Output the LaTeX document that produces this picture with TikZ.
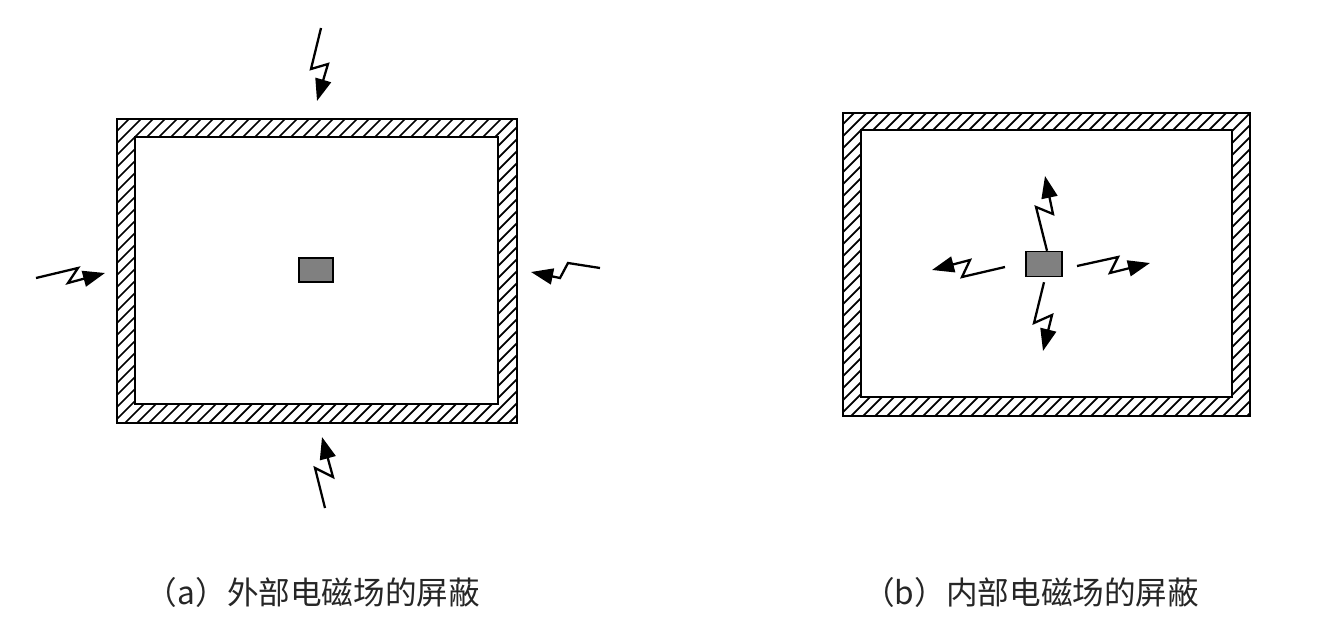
\documentclass[tikz,border=0pt]{standalone}
\usepackage{fontspec}
\newfontfamily\cjk{Noto Sans CJK SC}
\usetikzlibrary{arrows.meta}
\tikzset{
  wall/.style={draw=black, line width=0.8pt},
  hatchline/.style={draw=black, line width=1pt},
  source/.style={draw=black, line width=0.8pt, fill=black!50},
  bolt/.style={draw=black, line width=1.3pt, line join=miter,
    -{Triangle[length=0.44cm, width=0.32cm]}},
  caption/.style={font=\cjk\fontsize{18}{21}\selectfont, text=black!85, inner sep=0pt}
}
\newcommand{\shieldbox}[8]{%
  % #1,#2 outer x0,y0 ; #3,#4 outer x1,y1 ; #5..#8 inner
  \begin{scope}[even odd rule]
    \clip (#1,#2) rectangle (#3,#4) (#5,#6) rectangle (#7,#8);
    \foreach \xx in {-400,-388,...,540} {
      \draw[hatchline] ({#1+\xx},#4) -- ({#1+\xx+#4-#2},#2);
    }
  \end{scope}
  \draw[wall] (#1,#2) rectangle (#3,#4);
  \draw[wall] (#5,#6) rectangle (#7,#8);
}
\begin{document}
\begin{tikzpicture}[x=0.02cm, y=-0.02cm]
\useasboundingbox (0,0) rectangle (1332,639);
\fill[white] (0,0) rectangle (1332,639);

% ---------- (a) external ----------
\shieldbox{117}{119}{517}{423}{135}{137}{498}{404}
\node[source, minimum width=0.68cm, minimum height=0.48cm, inner sep=0pt] (srcA) at (316,270) {};

\coordinate (aT0) at (321,28);  \coordinate (aT1) at (311,69);
\coordinate (aT2) at (328,64);  \coordinate (aT3) at (317,101);
\draw[bolt] (aT0) -- (aT1) -- (aT2) -- (aT3);

\coordinate (aL0) at (36,278);  \coordinate (aL1) at (78,268);
\coordinate (aL2) at (68,283);  \coordinate (aL3) at (105,273);
\draw[bolt] (aL0) -- (aL1) -- (aL2) -- (aL3);

\coordinate (aR0) at (600,268); \coordinate (aR1) at (568,263);
\coordinate (aR2) at (560,278); \coordinate (aR3) at (531,272);
\draw[bolt] (aR0) -- (aR1) -- (aR2) -- (aR3);

\coordinate (aB0) at (325,508); \coordinate (aB1) at (315,468);
\coordinate (aB2) at (333,477); \coordinate (aB3) at (322,437);
\draw[bolt] (aB0) -- (aB1) -- (aB2) -- (aB3);

\node[caption] (capA) at (313,592) {（a）外部电磁场的屏蔽};

% ---------- (b) internal ----------
\shieldbox{843}{113}{1250}{416}{861}{130}{1232}{397}
\node[source, minimum width=0.72cm, minimum height=0.5cm, inner sep=0pt] (srcB) at (1044,264) {};

\coordinate (bU1) at (1036,207); \coordinate (bU2) at (1053,214);
\coordinate (bU3) at (1045,176);
\draw[bolt] ([xshift=0.06cm]srcB.north) -- (bU1) -- (bU2) -- (bU3);

\coordinate (bD1) at (1034,323); \coordinate (bD2) at (1052,315);
\coordinate (bD3) at (1043,351);
\draw[bolt] ([yshift=-0.1cm]srcB.south) -- (bD1) -- (bD2) -- (bD3);

\coordinate (bL0) at (1005,267); \coordinate (bL1) at (962,277);
\coordinate (bL2) at (970,260);  \coordinate (bL3) at (932,270);
\draw[bolt] (bL0) -- (bL1) -- (bL2) -- (bL3);

\coordinate (bR0) at (1077,266); \coordinate (bR1) at (1118,257);
\coordinate (bR2) at (1110,273); \coordinate (bR3) at (1150,263);
\draw[bolt] (bR0) -- (bR1) -- (bR2) -- (bR3);

\node[caption, anchor=west] (capB) at (863,592) {（b）内部电磁场的屏蔽};
\end{tikzpicture}
\end{document}
